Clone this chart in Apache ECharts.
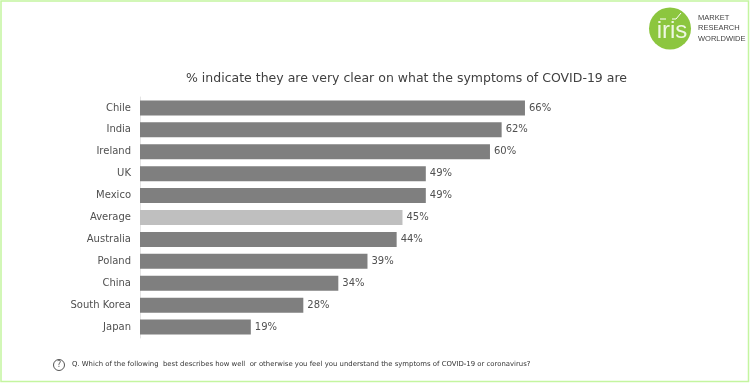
<!DOCTYPE html>
<html>
<head>
<meta charset="utf-8">
<style>
  html, body { margin: 0; padding: 0; background: #fff; }
  #chart { width: 750px; height: 385px; }
</style>
<script src="https://cdn.jsdelivr.net/npm/echarts@6/dist/echarts.min.js"></script>
</head>
<body>
<div id="chart"></div>
<script>
const categories = ['Chile', 'India', 'Ireland', 'UK', 'Mexico', 'Average', 'Australia', 'Poland', 'China', 'South Korea', 'Japan']
const values = [66, 62, 60, 49, 49, 45, 44, 39, 34, 28, 19]
const titleText = '% indicate they are very clear on what the symptoms of COVID-19 are'
const questionText = 'Q. Which of the following  best describes how well  or otherwise you feel you understand the symptoms of COVID-19 or coronavirus?'
const FONT = '"DejaVu Sans", sans-serif'

const myChart = echarts.init(document.getElementById('chart'), null, { renderer: 'canvas' })

myChart.setOption({
  animation: false,
  backgroundColor: '#fff',
  title: {
    text: titleText,
    left: 186,
    top: 72,
    padding: 0,
    textStyle: { fontFamily: FONT, fontSize: 12.5, fontWeight: 'normal', color: '#404040' }
  },
  grid: { left: 140, top: 97, width: 408.3, height: 241 },
  xAxis: { type: 'value', min: 0, max: 70, show: false },
  yAxis: {
    type: 'category',
    inverse: true,
    data: categories,
    axisLine: { show: true, lineStyle: { color: '#e4e4e4' } },
    axisTick: { show: false },
    axisLabel: { color: '#505050', fontFamily: FONT, fontSize: 10, margin: 9 }
  },
  series: [{
    type: 'bar',
    barWidth: 15,
    data: values.map((v, i) => ({
      value: v,
      itemStyle: { color: categories[i] === 'Average' ? '#bfbfbf' : '#7f7f7f' }
    })),
    label: {
      show: true,
      position: 'right',
      distance: 4,
      formatter: '{c}%',
      color: '#505050',
      fontFamily: FONT,
      fontSize: 10
    }
  }],
  graphic: [
    // outer green frame
    { type: 'rect', shape: { x: 1, y: 1, width: 747.5, height: 380.5 }, style: { fill: 'none', stroke: '#c4f5a0', lineWidth: 1.5 } },
    // logo
    { type: 'circle', shape: { cx: 670, cy: 28.5, r: 21 }, style: { fill: '#8cc63f' } },
    { type: 'polyline', shape: { points: [[660, 19], [666, 19]] }, style: { stroke: '#fff', lineWidth: 1, fill: 'none' } },
    { type: 'polyline', shape: { points: [[672, 19], [676, 19], [681, 13]] }, style: { stroke: '#fff', lineWidth: 1, fill: 'none' } },
    { type: 'text', style: { text: 'iris', x: 672, y: 31, align: 'center', verticalAlign: 'middle', fill: 'rgba(255,255,255,.85)', font: '24px "Liberation Sans", sans-serif' } },
    { type: 'text', style: { text: 'MARKET\nRESEARCH\nWORLDWIDE', x: 698, y: 12.5, fill: '#444', font: '7.5px "Liberation Sans", sans-serif', lineHeight: 10.5 } },
    // question note
    { type: 'circle', shape: { cx: 59, cy: 365, r: 5.5 }, style: { fill: 'none', stroke: '#555', lineWidth: 1 } },
    { type: 'text', style: { text: '?', x: 59, y: 365, align: 'center', verticalAlign: 'middle', fill: '#555', font: '8px ' + FONT } },
    { type: 'text', style: { text: questionText, x: 72, y: 364, verticalAlign: 'middle', fill: '#333', font: '6.9px ' + FONT } }
  ]
})
</script>
</body>
</html>
